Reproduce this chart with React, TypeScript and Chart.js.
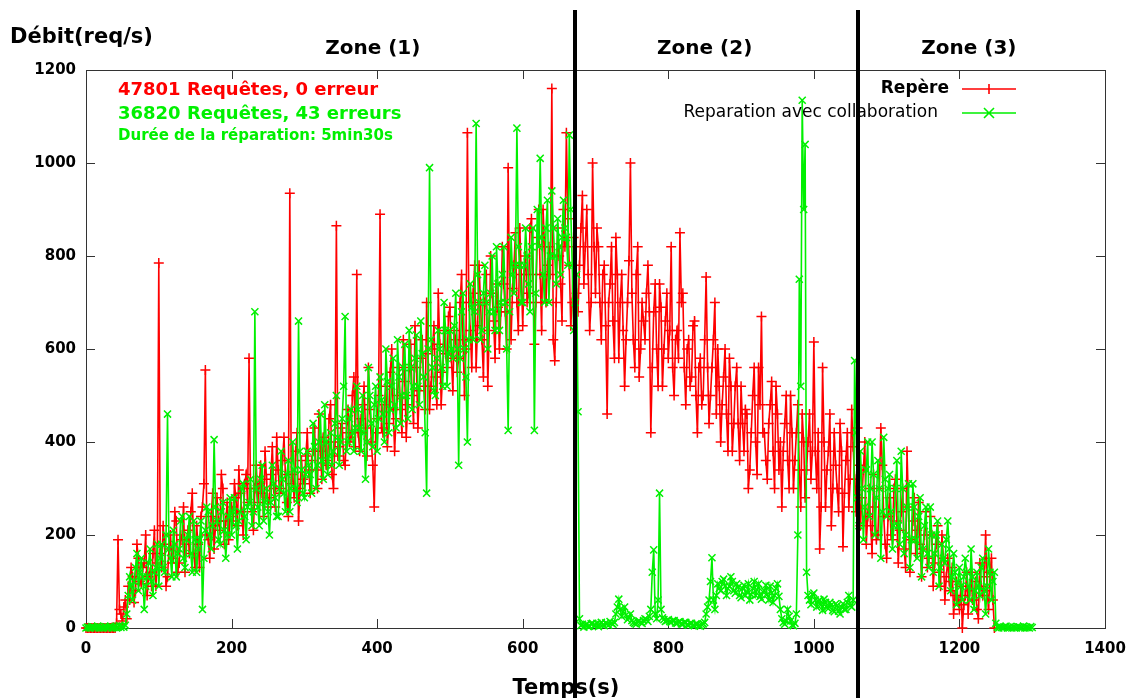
import React, { useEffect, useRef } from "react";
import { Chart, registerables } from "chart.js";

Chart.register(...registerables);

// sampling step (seconds) between consecutive readings
const STEP = 2;

// Repère (red) — readings every 2 s from t = 0 to t = 1248
const redValues = [
  0, 0, 0, 0, 0, 0, 0, 0, 0, 0, 0, 0, 0, 0, 0, 0, 0, 0, 0, 0,
  0, 10, 190, 40, 30, 15, 45, 60, 20, 90, 60, 130, 110, 55, 80, 180, 150, 100, 95, 130, 140, 200, 70, 110, 120, 90, 160, 210, 90, 140,
  785, 160, 130, 220, 180, 90, 110, 170, 200, 140, 150, 250, 230, 120, 140, 200, 190, 260, 120, 180,
  210, 160, 250, 290, 160, 130, 220, 180, 130, 240, 260, 310, 555, 200, 190, 150, 240, 290, 170, 220,
  280, 230, 210, 330, 300, 180, 230, 270, 190, 240,
  260, 230, 310, 280, 220, 340, 290, 250, 200, 310, 330, 270, 580, 300, 250, 210, 300, 350, 270, 310,
  350, 290, 240, 380, 320, 260, 280, 330, 390, 300, 260, 410, 340, 290, 300, 360, 410, 330, 270, 240,
  935, 310, 330, 280, 380, 420, 230, 300, 360, 320,
  310, 370, 420, 340, 290, 360, 380, 430, 340, 300, 460, 380, 320, 410, 400, 350, 360, 450, 480, 330,
  300, 400, 865, 370, 390, 430, 440, 360, 350, 420, 470, 400, 410, 500, 540, 390, 760, 420, 380, 450,
  480, 520, 430, 370, 560, 470, 400, 350, 260, 420,
  450, 500, 890, 430, 420, 480, 520, 390, 440, 550, 600, 470, 380, 450, 500, 560, 470, 420, 620, 530,
  410, 480, 560, 610, 500, 440, 650, 560, 430, 510, 580, 620, 520, 470, 700, 590, 470, 520, 600, 650,
  540, 480, 720, 610, 480, 550, 640, 590, 560, 670,
  690, 580, 510, 640, 620, 550, 580, 700, 760, 620, 500, 600, 1065, 700, 640, 560, 720, 780, 560, 650,
  780, 700, 620, 540, 700, 760, 520, 640, 800, 720, 660, 580, 740, 690, 600, 680, 820, 740, 680, 600,
  990, 700, 620, 730, 780, 850, 700, 640, 860, 760,
  650, 760, 800, 700, 720, 860, 880, 760, 610, 700, 840, 900, 760, 640, 900, 820, 700, 780, 820, 760,
  1160, 620, 575, 700, 860, 800, 740, 660, 900, 820, 1065, 880, 780, 650, 700, 840, 820, 720, 680, 780,
  860, 930, 740, 820, 900, 760, 640, 700, 1000, 820,
  720, 860, 820, 700, 620, 760, 780, 650, 460, 700, 740, 820, 660, 580, 840, 760, 580, 700, 760, 640,
  520, 620, 700, 790, 1000, 720, 620, 560, 760, 820, 540, 600, 700, 660, 620, 720, 780, 680, 420, 560,
  680, 740, 600, 520, 740, 690, 520, 600, 660, 720,
  580, 640, 820, 560, 500, 620, 640, 580, 850, 700, 720, 560, 480, 600, 620, 520, 540, 650, 660, 500,
  420, 560, 580, 480, 500, 620, 755, 560, 440, 500, 560, 620, 700, 460, 600, 520, 400, 480, 540, 600,
  460, 380, 580, 520, 380, 440, 520, 560, 440, 360,
  520, 440, 380, 470, 460, 300, 340, 420, 500, 560, 400, 330, 560, 480, 670, 420, 420, 360, 320, 440,
  480, 530, 380, 300, 520, 460, 340, 400, 260, 380, 440, 500, 360, 300, 500, 420, 300, 360, 420, 480,
  340, 260, 460, 400, 280, 340, 400, 460, 320, 380,
  615, 380, 300, 420, 170, 260, 560, 400, 260, 340, 380, 460, 220, 300, 420, 350, 300, 250, 440, 380,
  175, 290, 360, 420, 260, 320, 470, 390, 320, 250, 430, 350, 220, 280, 340, 400, 180, 240, 300, 220,
  160, 330, 260, 190, 200, 300, 430, 350, 240, 180,
  150, 240, 280, 200, 190, 300, 320, 230, 140, 210, 250, 300, 170, 130, 380, 260, 120, 190, 230, 280,
  160, 210, 270, 180, 110, 170, 200, 250, 130, 150, 240, 200, 90, 140, 180, 220, 120, 90, 200, 150,
  60, 110, 150, 100, 80, 130, 30, 70, 100, 60,
  40, 90, 0, 50, 70, 120, 30, 80, 120, 60, 60, 100, 40, 20, 140, 90, 70, 110, 200, 80, 40, 120, 150, 60, 0,
];

// Reparation avec collaboration (green) — readings every 2 s from t = 0 to t = 1300
const greenValues = [
  0, 2, 1, 0, 3, 2, 0, 1, 4, 0, 2, 1, 0, 3, 1, 0, 2, 4, 0, 1, 3, 0, 2, 5, 1, 4, 2, 6,
  30, 70, 110, 90, 60, 100, 130, 160, 80, 120, 150, 110, 40, 90, 110, 140, 170, 100, 70, 120, 130, 180,
  90, 150, 180, 130, 120, 200, 460, 170, 150, 110, 210, 180, 110, 160, 170, 230, 240, 150, 130, 190,
  200, 240, 160, 120, 230, 190, 120, 170, 190, 230, 40, 150, 210, 260, 250, 200, 170, 220, 405, 260,
  230, 190, 180, 250, 270, 210, 150, 200, 240, 280,
  200, 250, 280, 220, 170, 230, 250, 300, 310, 240, 190, 260, 270, 320, 220, 250, 680, 300, 260, 220,
  320, 350, 230, 270, 300, 250, 200, 270, 350, 310, 280, 240, 240, 300, 380, 320, 290, 250, 330, 360,
  250, 300, 400, 340, 300, 270, 660, 380, 340, 290,
  280, 330, 380, 350, 330, 290, 440, 390, 300, 350, 400, 460, 360, 320, 480, 400, 330, 370, 420, 350,
  380, 440, 500, 410, 350, 400, 450, 520, 670, 380, 400, 450, 470, 420, 380, 430, 520, 470, 430, 380,
  500, 420, 320, 400, 560, 500, 440, 390, 480, 520,
  380, 450, 540, 490, 460, 400, 600, 530, 420, 470, 520, 580, 480, 430, 620, 540, 440, 500, 560, 610,
  500, 450, 640, 560, 470, 520, 580, 630, 520, 480, 660, 590, 540, 420, 290, 600, 990, 620, 560, 510,
  500, 580, 640, 600, 560, 520, 700, 640, 520, 590,
  640, 600, 580, 650, 720, 600, 350, 580, 680, 720, 600, 540, 400, 620, 740, 690, 620, 680, 1085, 760,
  700, 620, 640, 720, 780, 700, 600, 680, 720, 800, 680, 640, 820, 740, 640, 700, 760, 820, 700, 600,
  425, 680, 840, 760, 720, 780, 1075, 820, 780, 700,
  700, 780, 860, 800, 740, 680, 820, 860, 425, 720, 900, 820, 1010, 840, 760, 700, 860, 920, 700, 800,
  940, 860, 800, 740, 880, 820, 760, 840, 920, 860, 840, 780, 1060, 900, 780, 640, 700, 760, 465, 20,
  5, 8, 2, 6, 8, 3, 4, 9, 10, 5,
  6, 10, 3, 8, 12, 7, 5, 11, 9, 6, 14, 10, 8, 12, 30, 45, 62, 40, 25, 35,
  45, 28, 18, 22, 30, 16, 12, 10, 8, 14, 15, 12, 10, 16, 20, 18, 14, 25, 40, 120,
  168, 30, 20, 60, 290, 40, 22, 18, 14, 16,
  18, 14, 12, 16, 16, 11, 10, 13, 14, 9, 8, 12, 12, 7, 6, 10, 10, 6, 5, 9,
  8, 5, 4, 7, 9, 12, 30, 45, 60, 100, 151, 60, 40, 70, 95, 85, 80, 100, 105, 90,
  70, 85, 90, 110, 100, 80, 75, 95, 88, 70,
  65, 85, 92, 70, 78, 95, 60, 72, 85, 100, 70, 82, 95, 68, 62, 78, 80, 92, 72, 60,
  90, 75, 55, 70, 85, 95, 68, 40, 20, 12, 8, 15, 40, 25, 15, 6, 5, 10, 30, 200,
  750, 520, 1135, 900, 1040, 120, 70, 60, 50, 72,
  75, 60, 45, 58, 60, 50, 38, 62, 55, 44, 42, 55, 50, 38, 35, 52, 48, 36, 30, 45,
  52, 40, 40, 55, 70, 48, 45, 60, 575, 420, 280, 220, 380, 300, 190, 260, 340, 400, 240, 300,
  400, 330, 200, 280, 360, 300, 150, 250, 410, 320,
  240, 300, 330, 250, 170, 220, 300, 360, 220, 180, 380, 300, 160, 200, 260, 310, 130, 190, 310, 260,
  190, 150, 240, 280, 110, 170, 220, 260, 160, 130, 260, 200, 120, 160, 200, 230, 90, 130, 180, 150,
  140, 190, 230, 170, 80, 110, 160, 120, 50, 100,
  130, 90, 60, 110, 150, 120, 90, 60, 170, 110, 40, 80, 120, 90, 70, 130, 150, 80, 30, 90, 170, 120, 60, 100, 120,
  10, 2, 0, 3, 1, 0, 2, 4, 0, 1, 3, 0, 2, 1, 0, 3, 2, 0, 1, 4, 0, 2, 1, 0, 3, 1,
];

const xTickValues = [0, 200, 400, 600, 800, 1000, 1200, 1400];
const yTickValues = [0, 200, 400, 600, 800, 1000, 1200];
const zoneDividers = [672, 1060];
const zoneLabels = ["Zone (1)", "Zone (2)", "Zone (3)"];
const zoneLabelCenters = [394, 850, 1213];
const seriesLabels = ["Repère", "Reparation avec collaboration"];
const annotations = [
  "47801 Requêtes, 0 erreur",
  "36820 Requêtes, 43 erreurs",
  "Durée de la réparation: 5min30s",
];

const RED = "#ff0000";
const GREEN = "#00f000";
const FONT = "'DejaVu Sans', sans-serif";

const decorPlugin = {
  id: "decor",
  beforeDatasetsDraw(chart: any) {
    const { ctx, chartArea: a, scales } = chart;
    const x = scales.x;
    const y = scales.y;
    ctx.save();
    ctx.strokeStyle = "#333";
    ctx.lineWidth = 1;
    ctx.strokeRect(Math.round(a.left) + 0.5, Math.round(a.top) + 0.5, Math.round(a.right - a.left), Math.round(a.bottom - a.top));
    const tl = 9;
    ctx.beginPath();
    xTickValues.slice(1, -1).forEach((v) => {
      const px = Math.round(x.getPixelForValue(v)) + 0.5;
      ctx.moveTo(px, a.bottom);
      ctx.lineTo(px, a.bottom - tl);
      ctx.moveTo(px, a.top);
      ctx.lineTo(px, a.top + tl);
    });
    yTickValues.slice(1, -1).forEach((v) => {
      const py = Math.round(y.getPixelForValue(v)) + 0.5;
      ctx.moveTo(a.left, py);
      ctx.lineTo(a.left + tl, py);
      ctx.moveTo(a.right, py);
      ctx.lineTo(a.right - tl, py);
    });
    ctx.stroke();
    ctx.restore();
  },
  afterDraw(chart: any) {
    const { ctx, scales } = chart;
    const x = scales.x;
    ctx.save();
    ctx.fillStyle = "#000";
    ctx.textBaseline = "middle";
    ctx.textAlign = "left";
    ctx.font = `bold 21px ${FONT}`;
    ctx.fillText("Débit(req/s)", 10, 38);
    ctx.textAlign = "center";
    ctx.fillText("Temps(s)", 566, 689);
    ctx.font = `bold 20px ${FONT}`;
    zoneLabels.forEach((z, i) => {
      ctx.fillText(z, x.getPixelForValue(zoneLabelCenters[i]), 49);
    });
    ctx.textAlign = "left";
    ctx.font = `bold 18px ${FONT}`;
    ctx.fillStyle = RED;
    ctx.fillText(annotations[0], 118, 90);
    ctx.fillStyle = GREEN;
    ctx.fillText(annotations[1], 118, 114);
    ctx.font = `bold 15px ${FONT}`;
    ctx.fillText(annotations[2], 118, 136);
    ctx.textAlign = "right";
    ctx.fillStyle = "#000";
    ctx.font = `bold 17px ${FONT}`;
    ctx.fillText(seriesLabels[0], 949, 89);
    ctx.font = `17px ${FONT}`;
    ctx.fillText(seriesLabels[1], 938, 113);
    const drawSample = (yy: number, color: string, rot: boolean) => {
      ctx.strokeStyle = color;
      ctx.lineWidth = 1.6;
      ctx.beginPath();
      ctx.moveTo(962, yy);
      ctx.lineTo(1016, yy);
      const cx = 989;
      const r = 5;
      if (rot) {
        ctx.moveTo(cx - r, yy - r);
        ctx.lineTo(cx + r, yy + r);
        ctx.moveTo(cx - r, yy + r);
        ctx.lineTo(cx + r, yy - r);
      } else {
        ctx.moveTo(cx, yy - r);
        ctx.lineTo(cx, yy + r);
      }
      ctx.stroke();
    };
    drawSample(89, RED, false);
    drawSample(113, GREEN, true);
    ctx.fillStyle = "#000";
    zoneDividers.forEach((t) => {
      const px = x.getPixelForValue(t);
      ctx.fillRect(Math.round(px) - 2, 10, 4, 698);
    });
    ctx.restore();
  },
};

export default function App() {
  const canvasRef = useRef<HTMLCanvasElement | null>(null);

  useEffect(() => {
    const canvas = canvasRef.current;
    if (!canvas) return;
    const redData = redValues.map((v, i) => ({ x: i * STEP, y: v }));
    const greenData = greenValues.map((v, i) => ({ x: i * STEP, y: v }));
    const chart = new Chart(canvas, {
      type: "line",
      data: {
        datasets: [
          {
            label: seriesLabels[1],
            data: greenData,
            borderColor: GREEN,
            backgroundColor: GREEN,
            borderWidth: 1.6,
            pointStyle: "crossRot",
            pointRadius: 5,
            pointBorderWidth: 1.5,
            pointBorderColor: GREEN,
            clip: false as any,
            order: 0,
          },
          {
            label: seriesLabels[0],
            data: redData,
            borderColor: RED,
            backgroundColor: RED,
            borderWidth: 1.6,
            pointStyle: "cross",
            pointRadius: 5,
            pointBorderWidth: 1.5,
            pointBorderColor: RED,
            clip: false as any,
            order: 1,
          },
        ],
      },
      options: {
        responsive: false,
        animation: false,
        layout: { padding: { top: 70, right: 24, bottom: 0, left: 0 } },
        plugins: {
          legend: { display: false },
          tooltip: { enabled: false },
          title: { display: false },
        },
        scales: {
          x: {
            type: "linear",
            min: 0,
            max: 1400,
            afterFit: (s: any) => {
              s.height = 70;
              s.paddingLeft = 0;
              s.paddingRight = 0;
            },
            afterBuildTicks: (s: any) => {
              s.ticks = xTickValues.map((v) => ({ value: v }));
            },
            grid: { display: false, drawTicks: false },
            border: { display: false },
            ticks: {
              padding: 12,
              color: "#000",
              font: { family: FONT, weight: "bold", size: 15 },
              maxRotation: 0,
              callback: (v: any) => String(v),
            },
          },
          y: {
            type: "linear",
            min: 0,
            max: 1200,
            afterFit: (s: any) => {
              s.width = 86;
              s.paddingTop = 0;
              s.paddingBottom = 0;
            },
            afterBuildTicks: (s: any) => {
              s.ticks = yTickValues.map((v) => ({ value: v }));
            },
            grid: { display: false, drawTicks: false },
            border: { display: false },
            ticks: {
              padding: 10,
              color: "#000",
              font: { family: FONT, weight: "bold", size: 15 },
              callback: (v: any) => String(v),
            },
          },
        },
      },
      plugins: [decorPlugin],
    });
    return () => chart.destroy();
  }, []);

  return (
    <div style={{ position: "fixed", left: 0, top: 0, width: 1129, height: 698, background: "#fff" }}>
      <canvas ref={canvasRef} width={1129} height={698} style={{ display: "block" }} />
    </div>
  );
}
